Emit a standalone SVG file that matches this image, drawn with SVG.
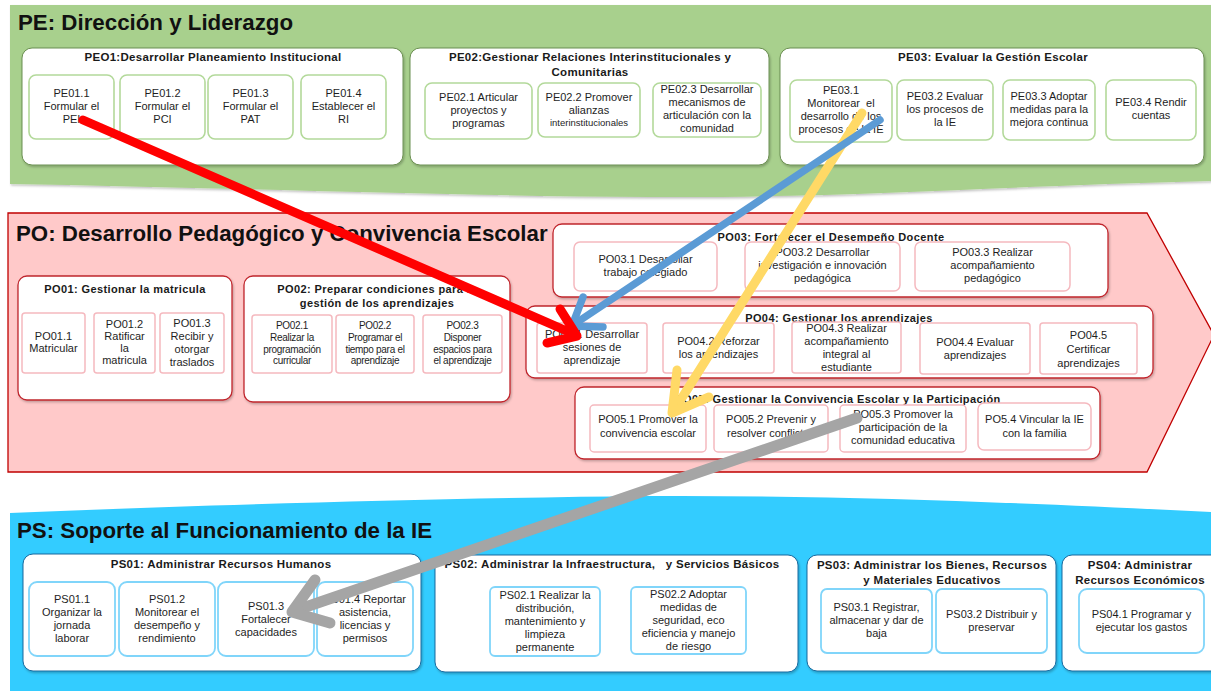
<svg xmlns="http://www.w3.org/2000/svg" width="1211" height="691" viewBox="0 0 1211 691">
<defs>
<filter id="sh" x="-10%" y="-10%" width="130%" height="130%">
<feDropShadow dx="1" dy="1.5" stdDeviation="1" flood-color="#000" flood-opacity="0.25"/>
</filter>
<style>
text{font-family:"Liberation Sans",Arial,sans-serif;fill:#1e1e1e;text-anchor:middle;font-size:11px}
.band-t{font-size:22.3px;font-weight:bold;text-anchor:start;fill:#111}
.gt{font-size:11.5px;font-weight:bold;fill:#1a1a1a;letter-spacing:0.3px}
.gto{font-size:11px;font-weight:bold;fill:#1a1a1a;letter-spacing:0.4px}
.grp-pe{fill:#fff;stroke:#6b8f52;stroke-width:1;filter:url(#sh)}
.sub-pe{fill:#fff;stroke:#b3d99a;stroke-width:1.6}
.grp-po{fill:#fff;stroke:#c0262d;stroke-width:1.3;filter:url(#sh)}
.sub-po{fill:#fff;stroke:#f5b9bf;stroke-width:1.5}
.grp-ps{fill:#fff;stroke:#1b6a9e;stroke-width:1;filter:url(#sh)}
.sub-ps{fill:#fff;stroke:#80d5fa;stroke-width:1.8}
.sm{font-size:10px;letter-spacing:-0.3px}
.xs{font-size:9.5px}
.arr{fill:none;stroke-linecap:round;stroke-linejoin:round}
</style>
</defs>

<!-- Bands -->
<g id="band-PE">
<path d="M10,5 H1211 V181 C1000,186 850,198 650,197 C450,196 200,187 10,184 Z" fill="#a8d08d" filter="url(#sh)"/>
<text class="band-t" x="18" y="30">PE: Dirección y Liderazgo</text>
</g>
<g id="band-PO">
<path d="M8,213 H1147 L1214,335 L1147,472 H8 Z" fill="#ffc9c9" stroke="#c00000" stroke-width="1.3"/>
<text class="band-t" x="16" y="241">PO: Desarrollo Pedagógico y Convivencia Escolar</text>
</g>
<g id="band-PS">
<path d="M10,513 C200,505 450,498 650,496 C850,495 1050,504 1211,512 V691 H10 Z" fill="#33ccff"/>
<text class="band-t" x="17" y="538">PS: Soporte al Funcionamiento de la IE</text>
</g>

<!-- PE groups -->
<g id="PE01">
<rect class="grp-pe" x="22" y="48" width="381" height="117" rx="10"/>
<text class="gt" x="213" y="61">PEO1:Desarrollar Planeamiento Institucional</text>
</g>
<g id="PE01.1"><rect class="sub-pe" x="29" y="75" width="85" height="64" rx="7"/>
<text x="71.5" y="97">PE01.1</text><text x="71.5" y="110">Formular el</text><text x="71.5" y="123">PEI</text></g>
<g id="PE01.2"><rect class="sub-pe" x="120" y="75" width="85" height="64" rx="7"/>
<text x="162.5" y="97">PE01.2</text><text x="162.5" y="110">Formular el</text><text x="162.5" y="123">PCI</text></g>
<g id="PE01.3"><rect class="sub-pe" x="208" y="75" width="85" height="64" rx="7"/>
<text x="250.5" y="97">PE01.3</text><text x="250.5" y="110">Formular el</text><text x="250.5" y="123">PAT</text></g>
<g id="PE01.4"><rect class="sub-pe" x="301" y="75" width="85" height="64" rx="7"/>
<text x="343.5" y="97">PE01.4</text><text x="343.5" y="110">Establecer el</text><text x="343.5" y="123">RI</text></g>

<g id="PE02">
<rect class="grp-pe" x="410" y="48" width="359" height="117" rx="10"/>
<text class="gt" x="590" y="61">PE02:Gestionar Relaciones Interinstitucionales y</text>
<text class="gt" x="590" y="76">Comunitarias</text>
</g>
<g id="PE02.1"><rect class="sub-pe" x="425" y="83" width="107" height="56" rx="7"/>
<text x="478.5" y="101">PE02.1 Articular</text><text x="478.5" y="114">proyectos y</text><text x="478.5" y="127">programas</text></g>
<g id="PE02.2"><rect class="sub-pe" x="538" y="83" width="102" height="54" rx="7"/>
<text x="589" y="101">PE02.2 Promover</text><text x="589" y="114">alianzas</text><text class="xs" x="589" y="126">interinstitucionales</text></g>
<g id="PE02.3"><rect class="sub-pe" x="653" y="83" width="108" height="54" rx="7"/>
<text x="707" y="93">PE02.3 Desarrollar</text><text x="707" y="106">mecanismos de</text><text x="707" y="119">articulación con la</text><text x="707" y="132">comunidad</text></g>

<g id="PE03">
<rect class="grp-pe" x="780" y="48" width="424" height="117" rx="10"/>
<text class="gt" x="993" y="61">PE03: Evaluar la Gestión Escolar</text>
</g>
<g id="PE03.1"><rect class="sub-pe" x="790" y="80" width="102" height="62" rx="7"/>
<text x="841" y="94">PE03.1</text><text x="841" y="107" xml:space="preserve">Monitorear  el</text><text x="841" y="120">desarrollo de los</text><text x="841" y="133">procesos de la IE</text></g>
<g id="PE03.2"><rect class="sub-pe" x="897" y="80" width="96" height="60" rx="7"/>
<text x="945" y="100">PE03.2 Evaluar</text><text x="945" y="113">los procesos de</text><text x="945" y="126">la IE</text></g>
<g id="PE03.3"><rect class="sub-pe" x="1003" y="80" width="92" height="60" rx="7"/>
<text x="1049" y="100">PE03.3 Adoptar</text><text x="1049" y="113">medidas para la</text><text x="1049" y="126">mejora continua</text></g>
<g id="PE03.4"><rect class="sub-pe" x="1106" y="80" width="90" height="60" rx="7"/>
<text x="1151" y="106">PE03.4 Rendir</text><text x="1151" y="119">cuentas</text></g>

<!-- PO groups -->
<g id="PO01">
<rect class="grp-po" x="18" y="276" width="214" height="124" rx="9"/>
<text class="gto" x="125" y="293">PO01: Gestionar la matricula</text>
</g>
<g id="PO01.1"><rect class="sub-po" x="22" y="313" width="63" height="60" rx="3"/>
<text x="53.5" y="340">PO01.1</text><text x="53.5" y="352">Matricular</text></g>
<g id="PO01.2"><rect class="sub-po" x="94" y="313" width="61" height="60" rx="3"/>
<text x="124.5" y="328">PO01.2</text><text x="124.5" y="340">Ratificar</text><text x="124.5" y="352">la</text><text x="124.5" y="364">matricula</text></g>
<g id="PO01.3"><rect class="sub-po" x="160" y="313" width="64" height="60" rx="3"/>
<text x="192" y="327">PO01.3</text><text x="192" y="340">Recibir y</text><text x="192" y="353">otorgar</text><text x="192" y="366">traslados</text></g>

<g id="PO02">
<rect class="grp-po" x="244" y="276" width="266" height="126" rx="9"/>
<text class="gto" x="377" y="293">PO02: Preparar condiciones para la</text>
<text class="gto" x="377" y="307">gestión de los aprendizajes</text>
</g>
<g id="PO02.1"><rect class="sub-po" x="252" y="315" width="80" height="58" rx="3"/>
<text class="sm" x="292" y="329">PO02.1</text><text class="sm" x="292" y="341">Realizar la</text><text class="sm" x="292" y="353">programación</text><text class="sm" x="292" y="364">curricular</text></g>
<g id="PO02.2"><rect class="sub-po" x="336" y="315" width="78" height="58" rx="3"/>
<text class="sm" x="375" y="329">PO02.2</text><text class="sm" x="375" y="341">Programar el</text><text class="sm" x="375" y="353">tiempo para el</text><text class="sm" x="375" y="364">aprendizaje</text></g>
<g id="PO02.3"><rect class="sub-po" x="423" y="315" width="79" height="58" rx="3"/>
<text class="sm" x="462.5" y="329">PO02.3</text><text class="sm" x="462.5" y="341">Disponer</text><text class="sm" x="462.5" y="353">espacios para</text><text class="sm" x="462.5" y="364">el aprendizaje</text></g>

<g id="PO03">
<rect class="grp-po" x="553" y="224" width="555" height="73" rx="9"/>
<text class="gto" x="831" y="241">PO03: Fortalecer el Desempeño Docente</text>
</g>
<g id="PO03.1"><rect class="sub-po" x="574" y="242" width="143" height="49" rx="6"/>
<text x="645.5" y="263">PO03.1 Desarrollar</text><text x="645.5" y="276">trabajo colegiado</text></g>
<g id="PO03.2"><rect class="sub-po" x="745" y="242" width="155" height="49" rx="6"/>
<text x="822.5" y="256">PO03.2 Desarrollar</text><text x="822.5" y="269">investigación e innovación</text><text x="822.5" y="282">pedagógica</text></g>
<g id="PO03.3"><rect class="sub-po" x="915" y="242" width="155" height="49" rx="6"/>
<text x="992.5" y="256">PO03.3 Realizar</text><text x="992.5" y="269">acompañamiento</text><text x="992.5" y="282">pedagógico</text></g>

<g id="PO04">
<rect class="grp-po" x="526" y="306" width="627" height="72" rx="9"/>
<text class="gto" x="839" y="322">PO04: Gestionar los aprendizajes</text>
</g>
<g id="PO04.1"><rect class="sub-po" x="537" y="323" width="110" height="50" rx="3"/>
<text x="592" y="338">PO04.1 Desarrollar</text><text x="592" y="351">sesiones de</text><text x="592" y="364">aprendizaje</text></g>
<g id="PO04.2"><rect class="sub-po" x="663" y="323" width="111" height="50" rx="3"/>
<text x="718.5" y="345">PO04.2 Reforzar</text><text x="718.5" y="358">los aprendizajes</text></g>
<g id="PO04.3"><rect class="sub-po" x="792" y="322" width="109" height="51" rx="3"/>
<text x="846.5" y="332">PO04.3 Realizar</text><text x="846.5" y="345">acompañamiento</text><text x="846.5" y="358">integral al</text><text x="846.5" y="371">estudiante</text></g>
<g id="PO04.4"><rect class="sub-po" x="920" y="323" width="110" height="51" rx="3"/>
<text x="975" y="346">PO04.4 Evaluar</text><text x="975" y="359">aprendizajes</text></g>
<g id="PO04.5"><rect class="sub-po" x="1040" y="323" width="97" height="51" rx="3"/>
<text x="1088.5" y="339">PO04.5</text><text x="1088.5" y="353">Certificar</text><text x="1088.5" y="367">aprendizajes</text></g>

<g id="PO05">
<rect class="grp-po" x="575" y="387" width="525" height="72" rx="9"/>
<text class="gto" x="838" y="403">PO05: Gestionar la Convivencia Escolar y la Participación</text>
</g>
<g id="PO05.1"><rect class="sub-po" x="590" y="405" width="116" height="47" rx="4"/>
<text x="648" y="423">PO05.1 Promover la</text><text x="648" y="437">convivencia escolar</text></g>
<g id="PO05.2"><rect class="sub-po" x="714" y="405" width="114" height="47" rx="4"/>
<text x="771" y="423">PO05.2 Prevenir y</text><text x="771" y="437">resolver conflictos</text></g>
<g id="PO05.3"><rect class="sub-po" x="840" y="405" width="126" height="47" rx="4"/>
<text x="903" y="418">PO05.3 Promover la</text><text x="903" y="431">participación de la</text><text x="903" y="444">comunidad educativa</text></g>
<g id="PO05.4"><rect class="sub-po" x="978" y="403" width="113" height="47" rx="6"/>
<text x="1034.5" y="423">PO5.4 Vincular la IE</text><text x="1034.5" y="437">con la familia</text></g>

<!-- PS groups -->
<g id="PS01">
<rect class="grp-ps" x="23" y="554" width="398" height="117" rx="10"/>
<text class="gt" x="221" y="568">PS01: Administrar Recursos Humanos</text>
</g>
<g id="PS01.1"><rect class="sub-ps" x="29" y="582" width="86" height="74" rx="8"/>
<text x="72" y="603">PS01.1</text><text x="72" y="616">Organizar la</text><text x="72" y="629">jornada</text><text x="72" y="642">laborar</text></g>
<g id="PS01.2"><rect class="sub-ps" x="119" y="582" width="96" height="74" rx="8"/>
<text x="167" y="603">PS01.2</text><text x="167" y="616">Monitorear el</text><text x="167" y="629">desempeño y</text><text x="167" y="642">rendimiento</text></g>
<g id="PS01.3"><rect class="sub-ps" x="218" y="582" width="96" height="74" rx="8"/>
<text x="266" y="610">PS01.3</text><text x="266" y="623">Fortalecer</text><text x="266" y="636">capacidades</text></g>
<g id="PS01.4"><rect class="sub-ps" x="317" y="582" width="96" height="74" rx="8"/>
<text x="365" y="603">PS01.4 Reportar</text><text x="365" y="616">asistencia,</text><text x="365" y="629">licencias y</text><text x="365" y="642">permisos</text></g>

<g id="PS02">
<rect class="grp-ps" x="435" y="555" width="363" height="117" rx="10"/>
<text class="gt" x="612" y="568" xml:space="preserve">PS02: Administrar la Infraestructura,   y Servicios Básicos</text>
</g>
<g id="PS02.1"><rect class="sub-ps" x="490" y="587" width="110" height="69" rx="5"/>
<text x="545" y="599">PS02.1 Realizar la</text><text x="545" y="612">distribución,</text><text x="545" y="625">mantenimiento y</text><text x="545" y="638">limpieza</text><text x="545" y="651">permanente</text></g>
<g id="PS02.2"><rect class="sub-ps" x="631" y="587" width="115" height="67" rx="5"/>
<text x="688.5" y="598">PS02.2 Adoptar</text><text x="688.5" y="611">medidas de</text><text x="688.5" y="624">seguridad, eco</text><text x="688.5" y="637">eficiencia y manejo</text><text x="688.5" y="650">de riesgo</text></g>

<g id="PS03">
<rect class="grp-ps" x="807" y="555" width="249" height="116" rx="10"/>
<text class="gt" x="932" y="569">PS03: Administrar los Bienes, Recursos</text>
<text class="gt" x="932" y="584">y Materiales Educativos</text>
</g>
<g id="PS03.1"><rect class="sub-ps" x="821" y="589" width="111" height="64" rx="6"/>
<text x="876.5" y="611">PS03.1 Registrar,</text><text x="876.5" y="624">almacenar y dar de</text><text x="876.5" y="637">baja</text></g>
<g id="PS03.2"><rect class="sub-ps" x="936" y="589" width="111" height="64" rx="6"/>
<text x="991.5" y="618">PS03.2 Distribuir y</text><text x="991.5" y="631">preservar</text></g>

<g id="PS04">
<rect class="grp-ps" x="1062" y="555" width="165" height="116" rx="10"/>
<text class="gt" x="1140" y="569">PS04: Administrar</text>
<text class="gt" x="1140" y="584">Recursos Económicos</text>
</g>
<g id="PS04.1"><rect class="sub-ps" x="1079" y="589" width="125" height="64" rx="8"/>
<text x="1141.5" y="618">PS04.1 Programar y</text><text x="1141.5" y="631">ejecutar los gastos</text></g>

<!-- Connectors -->
<g id="connectors">
<g id="c-yellow" class="arr" stroke="#ffd966" stroke-width="9">
<line x1="862" y1="113" x2="673" y2="412"/>
<polyline points="677,370 672,413 709,397"/>
</g>
<g id="c-blue" class="arr" stroke="#5b9bd5" stroke-width="7.5">
<line x1="880" y1="120" x2="573" y2="325"/>
<polyline points="583,297 572,326 603,327"/>
</g>
<g id="c-red" class="arr" stroke="#ff0000" stroke-width="9">
<line x1="83" y1="120" x2="576" y2="335"/>
<polyline points="547,343 577,336 560,309"/>
</g>
<g id="c-grey" class="arr" stroke="#a5a5a5" stroke-width="11">
<line x1="857" y1="418" x2="294" y2="611"/>
<polyline points="315,580 292,612 330,623"/>
</g>
</g>
</svg>
